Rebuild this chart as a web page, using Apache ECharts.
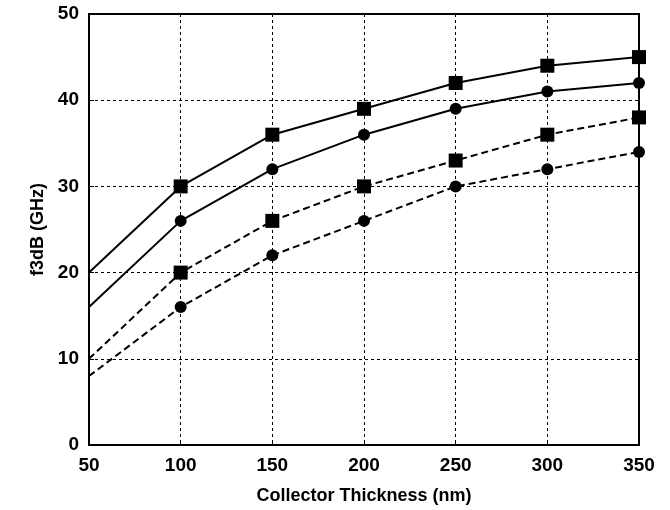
<!DOCTYPE html>
<html><head><meta charset="utf-8">
<script src="https://cdn.jsdelivr.net/npm/echarts@6/dist/echarts.min.js"></script>
<style>html,body{margin:0;padding:0;background:#fff}#c{width:670px;height:510px}</style>
</head><body><div id="c"></div>
<script>
var xVals = [50, 100, 150, 200, 250, 300, 350];
var solidSquare = [20, 30, 36, 39, 42, 44, 45];
var solidCircle = [16, 26, 32, 36, 39, 41, 42];
var dashSquare = [10, 20, 26, 30, 33, 36, 38];
var dashCircle = [8, 16, 22, 26, 30, 32, 34];
var xTitle = 'Collector Thickness (nm)';
var yTitle = 'f3dB (GHz)';

function pts(arr){ return xVals.map(function(x,i){ return [x, arr[i]]; }); }
function mk(name, arr, lineType, symbol, size){
  return {
    name: name, type: 'line', data: pts(arr), symbol: symbol, symbolSize: size,
    showSymbol: true,
    lineStyle: {color:'#000', width: 2, type: lineType === 'dashed' ? [7,4] : 'solid'},
    itemStyle: {color:'#000'},
    emphasis: {disabled: true},
    z: 3
  };
}
var series = [
  mk('a', solidSquare, 'solid', 'rect', 14),
  mk('b', solidCircle, 'solid', 'circle', 12),
  mk('c', dashSquare, 'dashed', 'rect', 14),
  mk('d', dashCircle, 'dashed', 'circle', 12)
];
// no marker at the first x value
series.forEach(function(s){
  s.data = s.data.map(function(p,i){ return i===0 ? {value:p, symbolSize:0} : p; });
});
var font = 'Liberation Sans, Arial, sans-serif';
var chart = echarts.init(document.getElementById('c'), null, {renderer:'canvas'});
chart.setOption({
  animation: false,
  backgroundColor: '#fff',
  grid: {left: 89, right: 31, top: 14, bottom: 65, show: true, borderColor:'#000', borderWidth: 2, backgroundColor:'transparent'},
  xAxis: {
    type: 'value', min: 50, max: 350, interval: 50,
    name: xTitle, nameLocation: 'middle', nameGap: 42,
    nameTextStyle: {fontFamily: font, fontSize: 18, fontWeight: 'bold', color:'#000'},
    axisLine: {show: true, lineStyle:{color:'#000', width:2}},
    axisTick: {show: true, inside: true, length: 5, lineStyle:{color:'#000'}},
    axisLabel: {fontFamily: font, fontSize: 19, fontWeight:'bold', color:'#000', margin: 11},
    splitLine: {show: true, lineStyle:{color:'#000', type:[3,3], width:1}}
  },
  yAxis: {
    type: 'value', min: 0, max: 50, interval: 10,
    name: yTitle, nameLocation: 'middle', nameGap: 38,
    nameTextStyle: {fontFamily: font, fontSize: 18, fontWeight: 'bold', color:'#000'},
    axisLine: {show: true, lineStyle:{color:'#000', width:2}},
    axisTick: {show: true, inside: true, length: 5, lineStyle:{color:'#000'}},
    axisLabel: {fontFamily: font, fontSize: 19, fontWeight:'bold', color:'#000', margin: 10},
    splitLine: {show: true, lineStyle:{color:'#000', type:[3,3], width:1}}
  },
  series: series
});
</script></body></html>
